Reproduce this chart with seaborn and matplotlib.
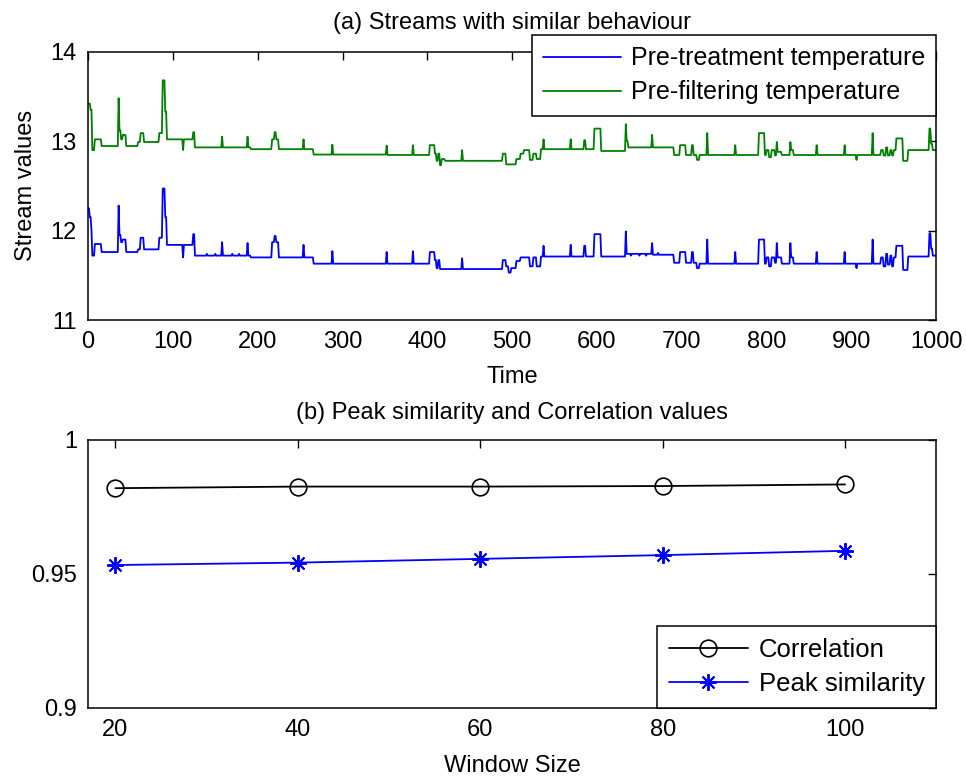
import numpy as np
import pandas as pd
import matplotlib
matplotlib.use('Agg')
import matplotlib.pyplot as plt
import seaborn as sns

# ---- data ----
# step breakpoints (time, value) of each stream
treat_t = [0, 2, 4, 5, 8, 16, 36, 37, 39, 41, 45, 59, 62, 66, 84, 88, 91, 93, 112, 113,
           124, 126, 140, 141, 150, 151, 158, 159, 170, 171, 178, 179, 188, 189, 192,
           217, 220, 222, 225, 254, 255, 266, 288, 289, 352, 353, 383, 384, 403, 409,
           411, 413, 415, 441, 442, 489, 493, 496, 499, 505, 510, 521, 525, 529, 534,
           537, 538, 569, 570, 585, 587, 597, 605, 634, 635, 640, 641, 650, 651, 658,
           659, 665, 666, 672, 673, 691, 698, 705, 712, 714, 718, 721, 730, 731, 763,
           764, 791, 798, 800, 803, 806, 810, 812, 813, 818, 828, 829, 832, 859, 860,
           892, 893, 906, 907, 925, 926, 935, 938, 941, 943, 946, 948, 950, 953, 961,
           967, 992, 994, 996]
treat_v = [12.25, 12.15, 12.0, 11.72, 11.85, 11.76, 12.28, 11.95, 11.87, 11.90, 11.76,
           11.79, 11.92, 11.79, 11.92, 12.47, 12.15, 11.84, 11.70, 11.84, 11.96, 11.72,
           11.74, 11.72, 11.74, 11.72, 11.87, 11.72, 11.74, 11.72, 11.74, 11.72, 11.86,
           11.72, 11.70, 11.87, 11.94, 11.87, 11.70, 11.84, 11.70, 11.63, 11.77, 11.63,
           11.76, 11.63, 11.77, 11.63, 11.76, 11.67, 11.58, 11.67, 11.57, 11.69, 11.57,
           11.67, 11.60, 11.53, 11.58, 11.66, 11.70, 11.60, 11.70, 11.60, 11.71, 11.83,
           11.71, 11.84, 11.71, 11.83, 11.71, 11.96, 11.71, 11.99, 11.74, 11.72, 11.74,
           11.72, 11.74, 11.72, 11.74, 11.86, 11.73, 11.75, 11.73, 11.64, 11.76, 11.64,
           11.76, 11.64, 11.58, 11.63, 11.90, 11.63, 11.76, 11.63, 11.90, 11.63, 11.70,
           11.60, 11.70, 11.64, 11.86, 11.70, 11.63, 11.86, 11.70, 11.63, 11.76, 11.63,
           11.76, 11.63, 11.58, 11.63, 11.90, 11.63, 11.70, 11.60, 11.74, 11.62, 11.72,
           11.60, 11.70, 11.83, 11.56, 11.71, 11.97, 11.80, 11.72]

filt_t = [0, 3, 5, 8, 16, 36, 37, 39, 41, 45, 59, 62, 66, 84, 88, 91, 93, 112, 113, 124,
          126, 158, 159, 188, 189, 192, 217, 220, 222, 225, 254, 255, 266, 288, 289, 352,
          353, 383, 384, 403, 409, 411, 413, 415, 417, 421, 441, 442, 489, 493, 505, 510,
          514, 521, 525, 529, 534, 537, 538, 569, 570, 585, 587, 597, 605, 634, 635, 637,
          665, 666, 691, 698, 705, 712, 714, 718, 721, 730, 731, 763, 764, 791, 798, 800,
          803, 806, 810, 812, 813, 818, 828, 829, 832, 859, 860, 892, 893, 906, 907, 925,
          926, 935, 938, 941, 943, 946, 948, 950, 953, 961, 967, 992, 994, 996]
filt_v = [13.42, 13.35, 12.90, 13.02, 12.945, 13.48, 13.12, 13.02, 13.07, 12.945, 12.99,
          13.09, 12.99, 13.09, 13.68, 13.33, 13.02, 12.90, 13.02, 13.10, 12.93, 13.05,
          12.93, 13.05, 12.93, 12.91, 13.02, 13.10, 13.02, 12.91, 13.02, 12.91, 12.85,
          12.96, 12.85, 12.95, 12.845, 12.955, 12.845, 12.955, 12.86, 12.78, 12.86, 12.73,
          12.80, 12.78, 12.90, 12.78, 12.86, 12.74, 12.80, 12.86, 12.90, 12.79, 12.86,
          12.80, 12.91, 13.02, 12.91, 13.02, 12.91, 13.01, 12.91, 13.14, 12.89, 13.19,
          13.0, 12.93, 13.07, 12.93, 12.845, 12.955, 12.845, 12.955, 12.845, 12.79,
          12.845, 13.09, 12.845, 12.955, 12.845, 13.09, 12.845, 12.90, 12.82, 12.90,
          12.84, 12.99, 12.88, 12.845, 12.99, 12.90, 12.845, 12.955, 12.845, 12.955,
          12.845, 12.79, 12.845, 13.09, 12.845, 12.90, 12.84, 12.93, 12.84, 12.90, 12.84,
          12.90, 13.03, 12.78, 12.90, 13.14, 12.97, 12.90]

window_sizes = [20, 40, 60, 80, 100]
correlation = [0.9820, 0.9826, 0.9826, 0.9828, 0.9834]
peak_similarity = [0.9533, 0.9542, 0.9556, 0.9570, 0.9586]

time = np.arange(0, 1001)


def step_series(bp_t, bp_v):
    idx = np.searchsorted(bp_t, time, side='right') - 1
    return np.asarray(bp_v)[idx]


streams = pd.DataFrame({
    'Time': time,
    'treat': step_series(treat_t, treat_v),
    'filt': step_series(filt_t, filt_v),
})

# ---- style ----
sns.set_style('white')
plt.rcParams['font.family'] = ['Liberation Sans', 'DejaVu Sans']
plt.rcParams['font.size'] = 17
plt.rcParams['axes.edgecolor'] = 'black'
plt.rcParams['axes.linewidth'] = 1.1
plt.rcParams['text.color'] = 'black'
plt.rcParams['axes.labelcolor'] = 'black'
plt.rcParams['xtick.color'] = 'black'
plt.rcParams['ytick.color'] = 'black'

fig = plt.figure(figsize=(9.66, 7.76), dpi=100)
ax1 = fig.add_axes([0.0912, 0.5876, 0.878, 0.3458])
ax2 = fig.add_axes([0.0912, 0.0880, 0.878, 0.3450])

# ---- (a) streams ----
sns.lineplot(data=streams, x='Time', y='treat', ax=ax1, color=(0, 0, 1),
             linewidth=1.3, estimator=None, label='Pre-treatment temperature')
sns.lineplot(data=streams, x='Time', y='filt', ax=ax1, color=(0, 0.5, 0),
             linewidth=1.3, estimator=None, label='Pre-filtering temperature')
ax1.set_xlim(0, 1000)
ax1.set_ylim(11, 14)
ax1.set_xticks(range(0, 1001, 100))
ax1.set_yticks([11, 12, 13, 14])
ax1.set_xlabel('Time', fontsize=17, labelpad=9)
ax1.set_ylabel('Stream values', fontsize=17, labelpad=10)
ax1.set_title('(a) Streams with similar behaviour', fontsize=17, pad=16)
leg1 = ax1.legend(loc='upper right', bbox_to_anchor=(1.0, 1.062), borderaxespad=0,
                  fancybox=False, framealpha=1, edgecolor='black', fontsize=18,
                  handlelength=3.1, handletextpad=0.4, borderpad=0.45, labelspacing=0.4)
leg1.get_frame().set_linewidth(1.1)

# ---- (b) similarity ----
sns.lineplot(x=window_sizes, y=correlation, ax=ax2, color='black', linewidth=1.3,
             marker='o', markersize=12, markerfacecolor='none', markeredgecolor='black',
             markeredgewidth=1.2, label='Correlation')
sns.lineplot(x=window_sizes, y=peak_similarity, ax=ax2, color=(0, 0, 1), linewidth=1.3,
             marker=(8, 2, 0), markersize=12, markeredgecolor=(0, 0, 1),
             markeredgewidth=1.4, label='Peak similarity')
ax2.set_xlim(17, 110)
ax2.set_ylim(0.9, 1.0)
ax2.set_xticks(window_sizes)
ax2.set_yticks([0.9, 0.95, 1.0])
ax2.set_yticklabels(['0.9', '0.95', '1'])
ax2.set_xlabel('Window Size', fontsize=17, labelpad=10)
ax2.set_title('(b) Peak similarity and Correlation values', fontsize=17, pad=15)
leg2 = ax2.legend(loc='lower right', bbox_to_anchor=(1.0, 0.0), borderaxespad=0,
                  fancybox=False, framealpha=1, edgecolor='black', fontsize=18.5,
                  handlelength=3.1, handletextpad=0.4, borderpad=0.45, labelspacing=0.4)
leg2.get_frame().set_linewidth(1.1)

for ax in (ax1, ax2):
    ax.tick_params(direction='in', top=True, right=True, length=6, width=1.0,
                   labelsize=17, pad=8)
    for s in ax.spines.values():
        s.set_visible(True)

fig.savefig('out.png', dpi=100)
